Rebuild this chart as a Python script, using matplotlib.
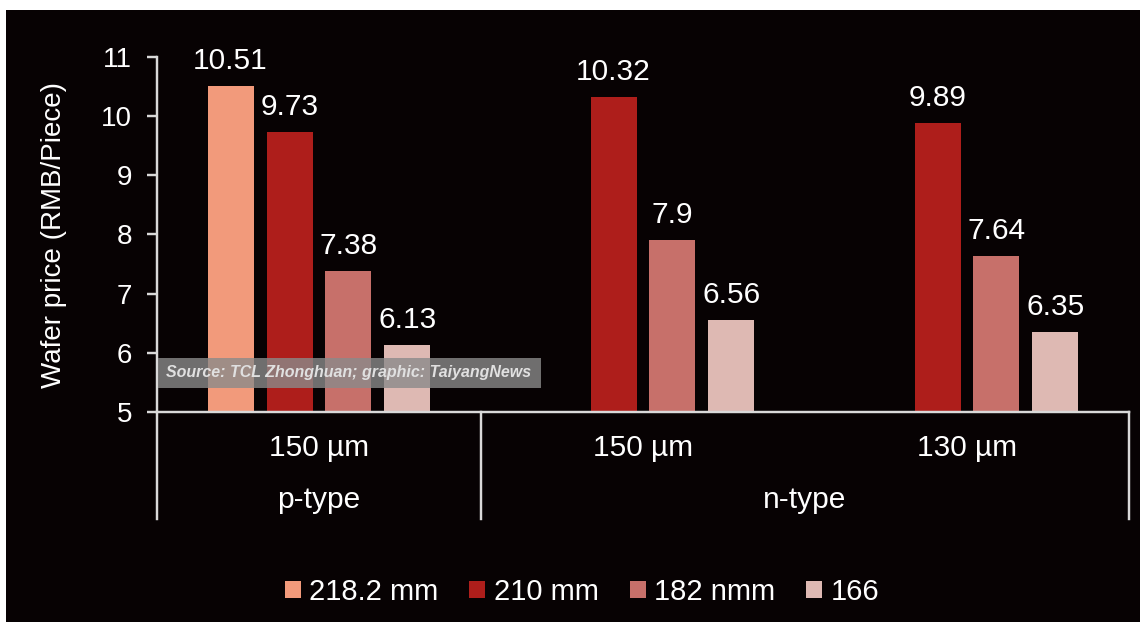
#!/usr/bin/env python3
"""Wafer price by size and thickness (TCL Zhonghuan)."""

import numpy as np
import matplotlib

matplotlib.use("Agg")
import matplotlib.pyplot as plt
from matplotlib.patches import Rectangle, Patch
from matplotlib.lines import Line2D


categories = ["150 µm", "150 µm", "130 µm"]
group_labels = ["p-type", "n-type"]
group_spans = [(0, 0), (1, 2)]  # category index range for each group
series = ["218.2 mm", "210 mm", "182 nmm", "166"]
values = {
    "218.2 mm": [10.51, np.nan, np.nan],
    "210 mm": [9.73, 10.32, 9.89],
    "182 nmm": [7.38, 7.9, 7.64],
    "166": [6.13, 6.56, 6.35],
}
colors = ["#F29A7B", "#AE1E1B", "#C7706A", "#DEB9B3"]
yticks = [5, 6, 7, 8, 9, 10, 11]
source_note = "Source: TCL Zhonghuan; graphic: TaiyangNews"

BG = "#070203"
AX = "#d9d9d9"
FONT = "Liberation Sans"

plt.rcParams["font.family"] = [FONT, "DejaVu Sans"]

W, H = 1140, 622
fig = plt.figure(figsize=(W / 100, H / 100), dpi=100, facecolor="white")
fig.patches.append(Rectangle((6 / W, 0), 1, (H - 10) / H, transform=fig.transFigure,
                             facecolor=BG, edgecolor="none", zorder=-10))

left, right, top, bottom = 157, 1129, 57, 412
ax = fig.add_axes([left / W, (H - bottom) / H, (right - left) / W, (bottom - top) / H])
ax.set_facecolor(BG)
ax.patch.set_alpha(0)

x = np.arange(len(categories))
width = 0.142
step = 0.182
offsets = (np.arange(len(series)) - (len(series) - 1) / 2) * step

for i, name in enumerate(series):
    vals = np.array(values[name], dtype=float)
    bars = ax.bar(x + offsets[i], vals - 5, bottom=5, width=width, color=colors[i], zorder=2)
    labels = ["" if np.isnan(v) else f"{v:g}" for v in vals]
    ax.bar_label(bars, labels=labels, padding=8, color="white", fontsize=21.5)

ax.set_xlim(-0.5, len(categories) - 0.5)
ax.set_ylim(5, 11)
ax.set_yticks(yticks)
ax.set_xticks([])
ax.tick_params(axis="y", colors=AX, labelcolor="white", labelsize=20, length=7, width=1.75, pad=11)
for s in ["top", "right"]:
    ax.spines[s].set_visible(False)
for s in ["left", "bottom"]:
    ax.spines[s].set_color(AX)
    ax.spines[s].set_linewidth(1.75)

ax.set_ylabel("Wafer price (RMB/Piece)", color="white", fontsize=20)
ax.yaxis.set_label_coords(-0.093, 0.5)

# multi-level category axis
axh = bottom - top
drop = -(519 - bottom) / axh
for xb in [-0.5, 0.5, len(categories) - 0.5]:
    ax.add_line(Line2D([xb, xb], [0, drop], transform=ax.get_xaxis_transform(),
                       color=AX, lw=1.75, clip_on=False))
for xi, cat in zip(x, categories):
    ax.text(xi, -(448 - bottom) / axh, cat, transform=ax.get_xaxis_transform(),
            ha="center", va="center", color="white", fontsize=21.5)
for (a, b), g in zip(group_spans, group_labels):
    ax.text((a + b) / 2, -(500 - bottom) / axh, g, transform=ax.get_xaxis_transform(),
            ha="center", va="center", color="white", fontsize=21.5)

# source box
fig.patches.append(Rectangle((158 / W, (H - 388) / H), (541 - 158) / W, 30 / H,
                             transform=fig.transFigure, facecolor="#8a8a8a", alpha=0.8,
                             edgecolor="none", zorder=5))
fig.text(166 / W, (H - 373) / H, source_note, ha="left", va="center", color="#e0e0e0",
         fontsize=11.5, fontweight="bold", fontstyle="italic", zorder=6)

handles = [Patch(facecolor=c, edgecolor="none") for c in colors]
fig.legend(handles, series, loc="center", bbox_to_anchor=(582 / W, (H - 592) / H), ncol=4,
           frameon=False, fontsize=21, labelcolor="white", handlelength=0.55, handleheight=0.55,
           handletextpad=0.3, columnspacing=1.05)

fig.savefig("out.png", dpi=100, facecolor=fig.get_facecolor())
